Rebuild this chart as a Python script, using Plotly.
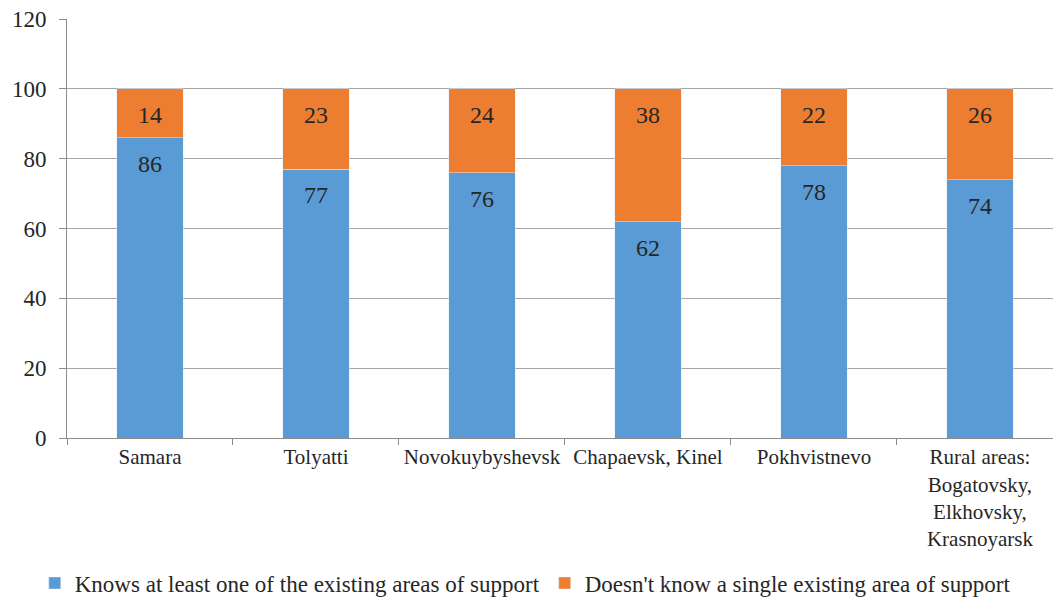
import plotly.graph_objects as go

categories = ["Samara", "Tolyatti", "Novokuybyshevsk", "Chapaevsk, Kinel", "Pokhvistnevo",
              "Rural areas:<br>Bogatovsky,<br>Elkhovsky,<br>Krasnoyarsk"]
knows = [86, 77, 76, 62, 78, 74]
doesnt_know = [14, 23, 24, 38, 22, 26]
series_names = ["Knows at least one of the existing areas of support",
                "Doesn't know a single existing area of support"]
y_ticks = [0, 20, 40, 60, 80, 100, 120]

BLUE = "#5B9BD5"
ORANGE = "#ED7D31"
FONT = "Liberation Serif"
TXT = "#262626"

fig = go.Figure()
fig.add_trace(go.Bar(x=categories, y=knows, name=series_names[0], marker_color=BLUE,
                     width=0.4))
fig.add_trace(go.Bar(x=categories, y=doesnt_know, name=series_names[1], marker_color=ORANGE,
                     width=0.4))

# data labels near the top of each segment
for i, c in enumerate(categories):
    fig.add_annotation(x=c, y=knows[i], text=str(knows[i]), showarrow=False,
                       yshift=-26, font=dict(family=FONT, size=24, color=TXT))
    fig.add_annotation(x=c, y=knows[i] + doesnt_know[i], text=str(doesnt_know[i]),
                       showarrow=False, yshift=-26, font=dict(family=FONT, size=24, color=TXT))

fig.update_layout(
    barmode="stack",
    width=1053, height=598,
    margin=dict(l=67, r=0, t=19, b=160, autoexpand=False),
    plot_bgcolor="white", paper_bgcolor="white",
    font=dict(family=FONT, size=21, color=TXT),
    showlegend=True,
    legend=dict(orientation="h", xref="container", yref="container",
                x=0.033, xanchor="left", y=0.025, yanchor="middle",
                font=dict(family=FONT, size=23, color=TXT), itemwidth=30,
                traceorder="normal"),
)
fig.update_xaxes(
    range=[-0.5, 5.44], automargin=False,
    tickson="boundaries", ticks="outside", ticklen=6, tickcolor="#8C8C8C",
    showline=True, linecolor="#8C8C8C", linewidth=1,
    tickfont=dict(family=FONT, size=21, color=TXT),
    showgrid=False,
)
fig.update_yaxes(
    range=[0, 120], tickvals=y_ticks, automargin=False,
    ticks="outside", ticklen=7, tickcolor="#8C8C8C",
    showline=True, linecolor="#8C8C8C", linewidth=1,
    showgrid=True, gridcolor="#A6A6A6", gridwidth=1,
    zeroline=False,
    tickfont=dict(family=FONT, size=23, color=TXT),
    ticklabelstandoff=8,
)

fig.write_html("out.html", config={"displayModeBar": False},
               post_script="document.body.style.margin='0';")
